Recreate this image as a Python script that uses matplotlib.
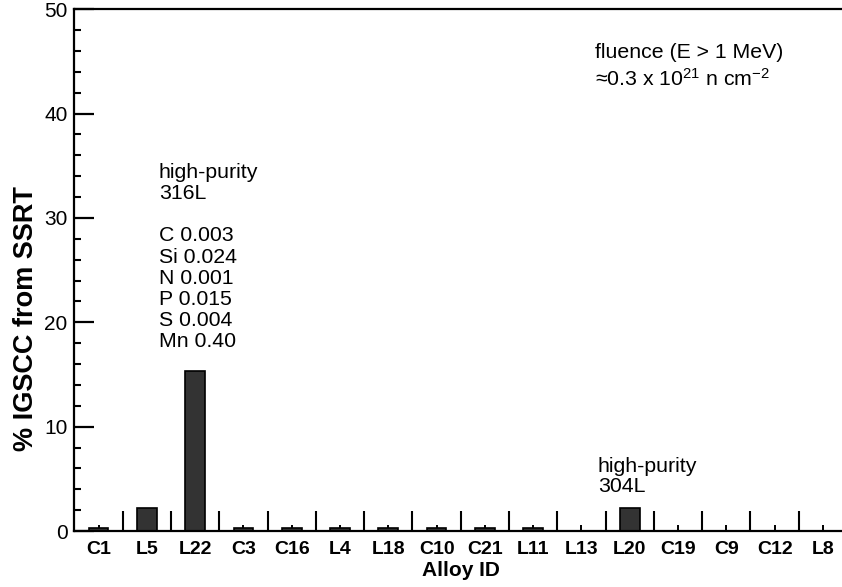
import numpy as np
import matplotlib
matplotlib.use("Agg")
import matplotlib.pyplot as plt
from matplotlib.ticker import MultipleLocator, FixedLocator

plt.rcParams['font.family'] = ['Liberation Sans', 'DejaVu Sans']
plt.rcParams['mathtext.fontset'] = 'custom'
plt.rcParams['mathtext.rm'] = 'Liberation Sans'
plt.rcParams['mathtext.it'] = 'Liberation Sans:italic'
plt.rcParams['mathtext.bf'] = 'Liberation Sans:bold'

alloys = ['C1', 'L5', 'L22', 'C3', 'C16', 'L4', 'L18', 'C10', 'C21',
          'L11', 'L13', 'L20', 'C19', 'C9', 'C12', 'L8']
igscc = [0.3, 2.2, 15.3, 0.3, 0.3, 0.3, 0.3, 0.3, 0.3,
         0.3, 0.0, 2.2, 0.0, 0.0, 0.0, 0.0]

note_316 = "high-purity\n316L\n\nC 0.003\nSi 0.024\nN 0.001\nP 0.015\nS 0.004\nMn 0.40"
note_304 = "high-purity\n304L"
fluence1 = "fluence (E > 1 MeV)"
fluence2 = r"≈0.3 x 10$^{21}$ n cm$^{-2}$"

fig = plt.figure(figsize=(8.42, 5.87), dpi=100)
ax = fig.add_axes([0.0884, 0.0954, 0.9176, 0.889])

x = np.arange(len(alloys))
ax.bar(x, igscc, width=0.41, color='#333333', edgecolor='black', linewidth=1.2, zorder=2)

ax.set_xlim(-0.5, len(alloys) - 0.5)
ax.set_ylim(0, 50)

for s in ['left', 'top', 'bottom']:
    ax.spines[s].set_linewidth(1.6)
ax.spines['right'].set_visible(False)

ax.set_xticks(x)
ax.set_xticklabels(alloys, fontweight='bold', fontsize=14)
ax.xaxis.set_minor_locator(FixedLocator(x[:-1] + 0.5))
ax.tick_params(axis='x', which='major', direction='in', length=4.3, width=1.4, pad=7)
ax.tick_params(axis='x', which='minor', direction='in', length=14.4, width=1.5)

ax.yaxis.set_major_locator(MultipleLocator(10))
ax.yaxis.set_minor_locator(MultipleLocator(2))
ax.tick_params(axis='y', which='major', direction='in', length=14.4, width=1.6, labelsize=15, pad=5)
ax.tick_params(axis='y', which='minor', direction='in', length=5, width=1.5)

ax.set_xlabel('Alloy ID', fontweight='bold', fontsize=15, labelpad=2)
ax.set_ylabel('% IGSCC from SSRT', fontweight='bold', fontsize=19.5)
ax.yaxis.set_label_coords(-0.046, 0.408)

ax.text(1.25, 35.25, note_316, fontsize=15.3, va='top', ha='left', linespacing=1.14)
ax.text(10.34, 7.1, note_304, fontsize=15.3, va='top', ha='left', linespacing=1.08)
ax.text(10.28, 46.8, fluence1, fontsize=15.3, va='top', ha='left')
ax.text(10.28, 44.4, fluence2, fontsize=15.3, va='top', ha='left')

fig.savefig('out.png', dpi=100)
